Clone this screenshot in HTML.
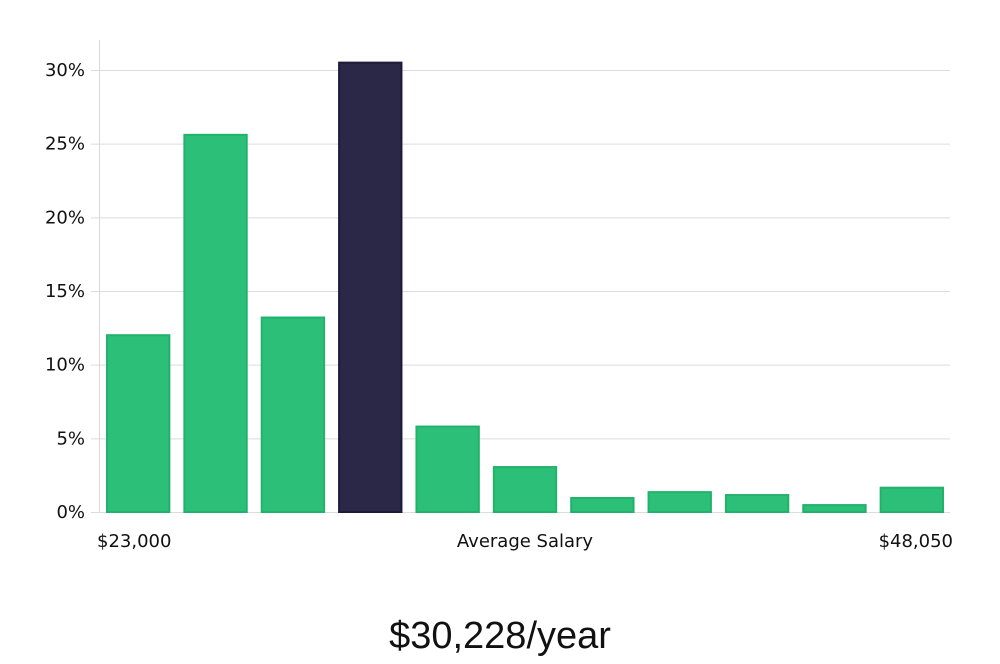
<!DOCTYPE html>
<html><head><meta charset="utf-8"><style>
body{margin:0;background:#fff;width:1000px;height:660px;overflow:hidden;font-family:"DejaVu Sans","Liberation Sans",sans-serif}
</style></head><body>
<svg width="1000" height="660" id="chart">
<g id="grid"></g><g id="bars"></g><g id="ylab"></g>
<line x1="99.5" y1="40" x2="99.5" y2="512" stroke="#d9d9d9"/>
<text x="97" y="547" font-size="18" fill="#111">$23,000</text>
<text x="525" y="547" font-size="18" fill="#111" text-anchor="middle">Average Salary</text>
<text x="953" y="547" font-size="18" fill="#111" text-anchor="end">$48,050</text>
<text x="500" y="648" font-size="38" fill="#111" text-anchor="middle" font-family="Liberation Sans Narrow, Liberation Sans, sans-serif">$30,228/year</text>
</svg>
<script>
const values=[12,25.6,13.2,30.5,5.8,3.05,0.95,1.35,1.15,0.47,1.65];
const highlight=[false,false,false,true,false,false,false,false,false,false,false];
const ticks=[0,5,10,15,20,25,30];
const tickLabels=["0%","5%","10%","15%","20%","25%","30%"];
const NS="http://www.w3.org/2000/svg";
const x0=99,x1=950,y0=512,yTop=70,vmax=30;
const y=v=>y0-(v/vmax)*(y0-yTop);
const band=(x1-x0)/values.length;
const g=document.getElementById('grid'),b=document.getElementById('bars'),yl=document.getElementById('ylab');
ticks.forEach((t,i)=>{
 const ln=document.createElementNS(NS,'line');
 ln.setAttribute('x1',91);ln.setAttribute('x2',x1);ln.setAttribute('y1',y(t)+0.5);ln.setAttribute('y2',y(t)+0.5);
 ln.setAttribute('stroke','#dcdcdc');
 
 
 g.appendChild(ln);
 const tx=document.createElementNS(NS,'text');
 tx.setAttribute('x',85);tx.setAttribute('y',y(t)+6);tx.setAttribute('text-anchor','end');
 tx.setAttribute('font-size','18');tx.setAttribute('fill','#111');
 tx.textContent=tickLabels[i];
 
 
 yl.appendChild(tx);
});
values.forEach((v,i)=>{
 const r=document.createElementNS(NS,'rect');
 r.setAttribute('x',x0+i*band+8);r.setAttribute('width',band-15);
 r.setAttribute('y',y(v));r.setAttribute('height',y0-y(v));
 r.setAttribute('fill',highlight[i]?'#2a2747':'#2bbf78');
 r.setAttribute('stroke',highlight[i]?'#1d1a3a':'#22b26c');
 r.setAttribute('stroke-width','2');
 
 
 b.appendChild(r);
});
</script>
</body></html>
